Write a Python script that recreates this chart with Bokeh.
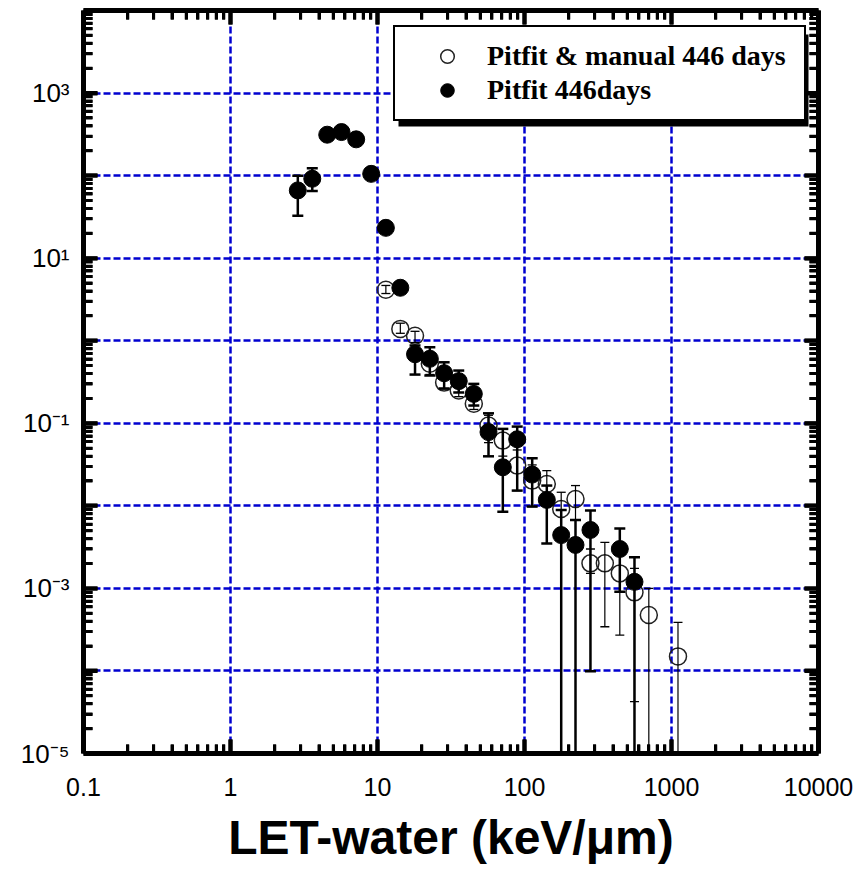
import math
from bokeh.plotting import figure
from bokeh.models import (ColumnDataSource, LogAxis, FixedTicker, CustomJSTickFormatter,
                          Legend, LegendItem, BoxAnnotation)
from bokeh.embed import file_html
from bokeh.resources import INLINE

NAN = float("nan")
OFF = 1e-9  # error bar extends below the plotted range

# ---- data: "Pitfit 446days" (filled circles) ----
let_filled = [2.87, 3.60, 4.55, 5.69, 7.16, 9.06, 11.4, 14.3, 18.0, 22.7, 28.4, 35.7,
              45.2, 56.9, 71.2, 89.2, 112.8, 141.8, 177.7, 222.3, 281, 445, 560]
val_filled = [66.2, 91.6, 313, 337, 275, 105, 23.3, 4.38, 0.686, 0.604, 0.404, 0.324,
              0.227, 0.0782, 0.0293, 0.0640, 0.0239, 0.0118, 0.00442, 0.00336, 0.0051, 0.0030, 0.0012]
hi_filled = [99.3, 123, NAN, NAN, NAN, NAN, NAN, NAN, 0.875, 0.834, 0.548, 0.435,
             0.30, 0.132, 0.0855, 0.0912, 0.0377, 0.0176, 0.0089, 0.00675, 0.00875, 0.00533, 0.00238]
lo_filled = [32.7, 64.9, NAN, NAN, NAN, NAN, NAN, NAN, 0.389, 0.379, 0.264, 0.236,
             0.164, 0.0398, 0.0085, 0.0153, 0.0098, 0.0035, OFF, OFF, 9.9e-5, 9.1e-4, OFF]

# ---- data: "Pitfit & manual 446 days" (open circles) ----
let_open = [11.4, 14.3, 18.0, 22.7, 28.4, 35.7, 45.2, 56.9, 71.2, 89.2, 112.8, 141.8,
            177.7, 222.3, 281, 352, 445, 560, 701, 1107]
val_open = [4.14, 1.39, 1.15, 0.525, 0.311, 0.249, 0.172, 0.0938, 0.0617, 0.0307, 0.0202, 0.0184,
            0.00917, 0.0121, 0.00201, 0.00201, 0.00152, 8.95e-4, 4.75e-4, 1.5e-4]
hi_open = [4.67, 1.63, 1.30, 0.70, 0.40, 0.33, 0.22, 0.125, 0.086, 0.0475, 0.0313, 0.0267,
           0.0146, 0.0176, 0.0030, 0.00361, 0.0025, 0.00175, 0.001, 3.87e-4]
lo_open = [3.73, 1.23, 0.95, 0.39, 0.26, 0.21, 0.147, 0.0583, 0.040, 0.0153, 0.0098, 0.0105,
           0.0050, 0.00675, 0.00152, 3.43e-4, 2.72e-4, 4.24e-5, OFF, OFF]

# ---- axes ticks / labels ----
x_ticks = [0.1, 1, 10, 100, 1000, 10000]
x_tick_labels = ["0.1", "1", "10", "100", "1000", "10000"]
y_ticks = [1e-5, 1e-4, 1e-3, 1e-2, 1e-1, 1, 10, 100, 1000, 10000]
y_tick_labels = ["10\u207b\u2075", "", "10\u207b\u00b3", "", "10\u207b\u00b9", "", "10\u00b9", "", "10\u00b3", ""]
x_minor = [m * 10.0 ** e for e in range(-1, 4) for m in range(2, 10)]
y_minor = [m * 10.0 ** e for e in range(-5, 4) for m in range(2, 10)]

series_labels = ["Pitfit & manual 446 days", "Pitfit 446days"]

# ---- layout constants (pixels) ----
FL, FW, FT, FH = 83, 735, 10, 743
XMIN, XMAX, YMIN, YMAX = 0.1, 1e4, 1e-5, 1e4
MINOR_LEN, MAJOR_LEN = 9, 14

def px2x(px):
    return 10 ** (math.log10(XMIN) + (px - FL) / FW * (math.log10(XMAX) - math.log10(XMIN)))

def py2y(py):
    return 10 ** (math.log10(YMAX) - (py - FT) / FH * (math.log10(YMAX) - math.log10(YMIN)))

p = figure(x_axis_type="log", y_axis_type="log", x_range=(XMIN, XMAX), y_range=(YMIN, YMAX),
           frame_width=FW, frame_height=FH, min_border_left=FL, min_border_right=867 - FL - FW,
           min_border_top=FT, min_border_bottom=869 - FT - FH,
           output_backend="svg", toolbar_location=None,
           background_fill_color="white", border_fill_color="white", outline_line_color=None)

src_f = ColumnDataSource(dict(x=let_filled, y=val_filled, hi=hi_filled, lo=lo_filled))
src_o = ColumnDataSource(dict(x=let_open, y=val_open, hi=hi_open, lo=lo_open))

# ---- inward tick marks on all four sides (drawn as glyphs as well as by the axes) ----
def x_tick_marks(xs, length, width):
    n = len(xs)
    p.segment(x0=xs, y0=[YMIN] * n, x1=xs, y1=[py2y(FT + FH - length)] * n,
              line_color="black", line_width=width)
    p.segment(x0=xs, y0=[YMAX] * n, x1=xs, y1=[py2y(FT + length)] * n,
              line_color="black", line_width=width)

def y_tick_marks(ys, length, width):
    n = len(ys)
    p.segment(x0=[XMIN] * n, y0=ys, x1=[px2x(FL + length)] * n, y1=ys,
              line_color="black", line_width=width)
    p.segment(x0=[XMAX] * n, y0=ys, x1=[px2x(FL + FW - length)] * n, y1=ys,
              line_color="black", line_width=width)

x_tick_marks(x_minor, MINOR_LEN, 3)
x_tick_marks(x_ticks, MAJOR_LEN, 4)
y_tick_marks(y_minor, MINOR_LEN, 3)
y_tick_marks(y_ticks, MAJOR_LEN, 4)

# open series: circles, then error bars
r_open = p.scatter("x", "y", source=src_o, marker="circle", size=17, fill_alpha=0,
                   line_color="#222222", line_width=1.5)
p.segment(x0="x", y0="lo", x1="x", y1="hi", source=src_o, line_color="black", line_width=1.2)
p.scatter("x", "hi", source=src_o, marker="dash", size=9, line_color="black", line_width=1.3)
p.scatter("x", "lo", source=src_o, marker="dash", size=9, line_color="black", line_width=1.3)

# filled series: error bars, then circles
p.segment(x0="x", y0="lo", x1="x", y1="hi", source=src_f, line_color="black", line_width=2.5)
p.scatter("x", "hi", source=src_f, marker="dash", size=11, line_color="black", line_width=2.5)
p.scatter("x", "lo", source=src_f, marker="dash", size=11, line_color="black", line_width=2.5)
r_filled = p.scatter("x", "y", source=src_f, marker="circle", size=17, fill_color="black",
                     line_color="black", line_width=1)

# ---- axes ----
fmt_code = """
let best = 0, bd = Infinity;
for (let i = 0; i < tk.length; i++) {
  const d = Math.abs(Math.log10(tick) - Math.log10(tk[i]));
  if (d < bd) { bd = d; best = i; }
}
return lb[best];
"""

def style_axis(ax, ticks, minor):
    ax.ticker = FixedTicker(ticks=ticks, minor_ticks=minor)
    ax.axis_line_width = 5
    ax.axis_line_color = "black"
    ax.major_tick_in = MAJOR_LEN
    ax.major_tick_out = 0
    ax.minor_tick_in = MINOR_LEN
    ax.minor_tick_out = 0
    ax.major_tick_line_width = 4
    ax.minor_tick_line_width = 3
    ax.major_tick_line_color = "black"
    ax.minor_tick_line_color = "black"

xa = p.xaxis[0]
style_axis(xa, x_ticks, x_minor)
xa.formatter = CustomJSTickFormatter(args=dict(tk=x_ticks, lb=x_tick_labels), code=fmt_code)
xa.major_label_text_font = "Liberation Sans"
xa.major_label_text_font_size = "25px"
xa.major_label_text_color = "black"
xa.major_label_standoff = 24
xa.axis_label = "LET-water (keV/\u03bcm)"
xa.axis_label_text_font = "Liberation Sans"
xa.axis_label_text_font_style = "bold"
xa.axis_label_text_font_size = "48px"
xa.axis_label_text_color = "black"
xa.axis_label_standoff = 12

ya = p.yaxis[0]
style_axis(ya, y_ticks, y_minor)
ya.formatter = CustomJSTickFormatter(args=dict(tk=y_ticks, lb=y_tick_labels), code=fmt_code)
ya.major_label_text_font = "Liberation Sans"
ya.major_label_text_font_size = "26px"
ya.major_label_text_color = "black"
ya.major_label_standoff = 14

top = LogAxis(formatter=CustomJSTickFormatter(code="return ''"),
              major_label_text_font_size="0px", major_label_standoff=0)
style_axis(top, x_ticks, x_minor)
p.add_layout(top, "above")
right = LogAxis(formatter=CustomJSTickFormatter(code="return ''"),
                major_label_text_font_size="0px", major_label_standoff=0)
style_axis(right, y_ticks, y_minor)
p.add_layout(right, "right")

# ---- grid ----
p.xgrid.ticker = FixedTicker(ticks=x_ticks)
p.ygrid.ticker = FixedTicker(ticks=y_ticks)
for g in (p.xgrid[0], p.ygrid[0]):
    g.grid_line_color = "#0000d0"
    g.grid_line_dash = "7 3"
    g.grid_line_width = 2.5

# ---- legend with drop shadow ----
LG_L, LG_T, LG_R, LG_B = 393, 29, 803, 121
shadow = BoxAnnotation(left=px2x(LG_L + 5), right=px2x(LG_R + 5), top=py2y(LG_T + 5), bottom=py2y(LG_B + 5),
                       fill_color="black", fill_alpha=1, line_alpha=0)
p.add_layout(shadow)

legend = Legend(items=[LegendItem(label=series_labels[0], renderers=[r_open]),
                       LegendItem(label=series_labels[1], renderers=[r_filled])],
                location=(LG_L - FL, FT + FH - LG_B), orientation="vertical",
                padding=12, spacing=0, glyph_height=34, glyph_width=80,
                label_standoff=0, label_width=305, margin=0,
                label_text_font="Liberation Serif", label_text_font_style="bold",
                label_text_font_size="28px", label_text_color="black",
                border_line_color="black", border_line_width=2, border_line_alpha=1,
                background_fill_color="white", background_fill_alpha=1)
p.add_layout(legend)

open("out.html", "w").write(file_html(p, INLINE))
